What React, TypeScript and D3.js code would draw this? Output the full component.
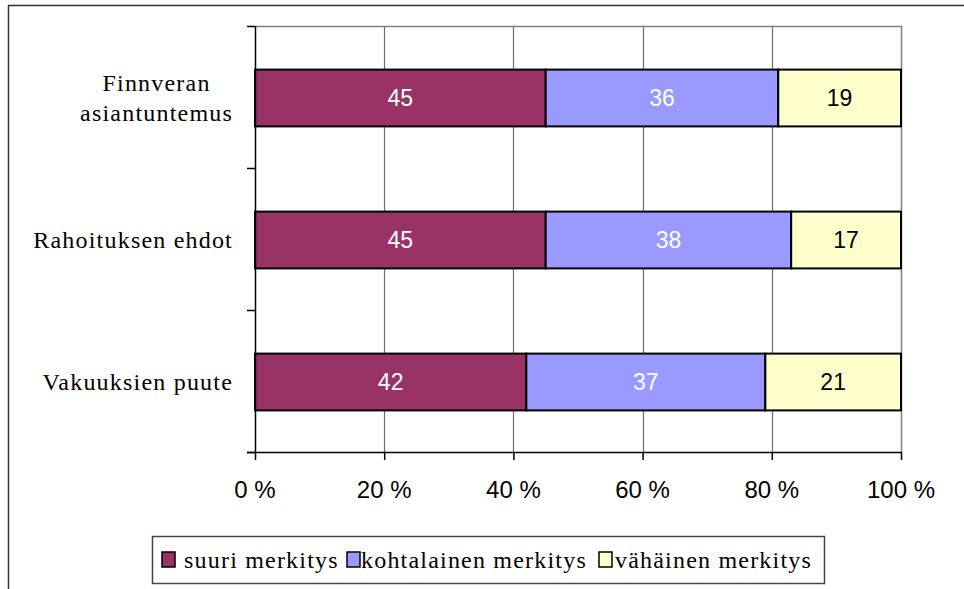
import React, { useEffect, useRef } from 'react';
import * as d3 from 'd3';

const categories = [['Finnveran', 'asiantuntemus'], ['Rahoituksen ehdot'], ['Vakuuksien puute']];
const seriesNames = ['suuri merkitys', 'kohtalainen merkitys', 'vähäinen merkitys'];
const suuri = [45, 45, 42];
const kohtalainen = [36, 38, 37];
const vahainen = [19, 17, 21];
const xTicks = [0, 20, 40, 60, 80, 100];

const colors = ['#993366', '#9999ff', '#ffffcc'];
const labelColors = ['#ffffff', '#ffffff', '#000000'];

const W = 964;
const H = 589;

const App: React.FC = () => {
  const svgRef = useRef<SVGSVGElement>(null);

  useEffect(() => {
    if (!svgRef.current) return;
    const svg = d3.select(svgRef.current);
    svg.selectAll('*').remove();

    const margin = { top: 26, left: 255, right: W - 901, bottom: H - 452 };
    const keys = categories.map(c => c.join(' '));
    const rows = keys.map((k, i) => ({ key: k, values: [suuri[i], kohtalainen[i], vahainen[i]] }));

    const x = d3.scaleLinear().domain([0, 100]).range([margin.left, W - margin.right]);
    const y = d3.scaleBand().domain(keys).range([margin.top, H - margin.bottom]).paddingInner(0.6).paddingOuter(0.3);
    const band = d3.scaleBand().domain(keys).range([margin.top, H - margin.bottom]);

    // outer chart frame
    svg.append('rect').attr('x', 8.5).attr('y', 5.5).attr('width', W).attr('height', H)
      .attr('fill', 'none').attr('stroke', '#333').attr('stroke-width', 1.5);

    // plot area border (top/right)
    svg.append('path')
      .attr('d', `M${x(0)},${margin.top + 0.5}H${x(100) + 0.5}V${H - margin.bottom}`)
      .attr('fill', 'none').attr('stroke', '#808080').attr('stroke-width', 1.5);

    // gridlines
    svg.append('g').selectAll('line').data(xTicks.slice(1, -1)).join('line')
      .attr('x1', d => Math.round(x(d)) + 0.5).attr('x2', d => Math.round(x(d)) + 0.5)
      .attr('y1', margin.top).attr('y2', H - margin.bottom)
      .attr('stroke', '#6e6e6e').attr('stroke-width', 1.2);

    // stacked bars
    const stack = d3.stack<any>().keys(['0', '1', '2']).value((d, k) => d.values[+k]);
    const stacked = stack(rows);
    stacked.forEach((layer, si) => {
      const g = svg.append('g');
      g.selectAll('rect').data(layer).join('rect')
        .attr('x', d => x(d[0]))
        .attr('y', d => (y((d as any).data.key) as number) + 1)
        .attr('width', d => x(d[1]) - x(d[0]))
        .attr('height', y.bandwidth())
        .attr('fill', colors[si])
        .attr('stroke', '#000').attr('stroke-width', 2);
      g.selectAll('text').data(layer).join('text')
        .attr('x', d => (x(d[0]) + x(d[1])) / 2)
        .attr('y', d => (y((d as any).data.key) as number) + 1 + y.bandwidth() / 2)
        .attr('dy', '0.36em')
        .attr('text-anchor', 'middle')
        .attr('font-family', 'Liberation Sans, Arial, sans-serif')
        .attr('font-size', 23)
        .attr('fill', labelColors[si])
        .text(d => String(d[1] - d[0]));
    });

    // y axis
    const yAxis = svg.append('g');
    yAxis.append('line').attr('x1', x(0) + 0.5).attr('x2', x(0) + 0.5)
      .attr('y1', margin.top).attr('y2', H - margin.bottom).attr('stroke', '#000').attr('stroke-width', 1.5);
    const yTickPos = keys.map(k => band(k) as number).concat([H - margin.bottom]);
    yAxis.selectAll('line.t').data(yTickPos).join('line').attr('class', 't')
      .attr('x1', x(0) - 8).attr('x2', x(0)).attr('y1', d => d + 0.5).attr('y2', d => d + 0.5)
      .attr('stroke', '#000').attr('stroke-width', 1.5);

    // category labels
    const labelRight = 233;
    categories.forEach((lines, i) => {
      const cy = (y(keys[i]) as number) + 1 + y.bandwidth() / 2;
      const t = svg.append('text')
        .attr('font-family', 'Liberation Serif, Times New Roman, serif')
        .attr('font-size', 24).attr('letter-spacing', 1.2).attr('fill', '#000')
        .attr('text-anchor', 'middle');
      const lh = 30;
      lines.forEach((ln, j) => {
        t.append('tspan').attr('x', 0).attr('y', cy + (j - (lines.length - 1) / 2) * lh).attr('dy', '0.35em').text(ln);
      });
      const bb = (t.node() as SVGTextElement).getBBox();
      t.attr('transform', `translate(${labelRight - bb.width / 2},0)`);
    });

    // x axis
    const xAxis = svg.append('g').attr('transform', `translate(0,${H - margin.bottom})`);
    xAxis.append('line').attr('x1', x(0) - 8).attr('x2', x(100)).attr('y1', 0.5).attr('y2', 0.5)
      .attr('stroke', '#000').attr('stroke-width', 1.5);
    xAxis.selectAll('line.t').data(xTicks).join('line').attr('class', 't')
      .attr('x1', d => x(d) + 0.5).attr('x2', d => x(d) + 0.5).attr('y1', 0).attr('y2', 8)
      .attr('stroke', '#000').attr('stroke-width', 1.5);
    xAxis.selectAll('text').data(xTicks).join('text')
      .attr('x', d => x(d)).attr('y', 46)
      .attr('text-anchor', 'middle')
      .attr('font-family', 'Liberation Sans, Arial, sans-serif')
      .attr('font-size', 24).attr('fill', '#000')
      .text(d => `${d} %`);

    // legend
    const lg = svg.append('g');
    lg.append('rect').attr('x', 152.5).attr('y', 536.5).attr('width', 672).attr('height', 47)
      .attr('fill', '#fff').attr('stroke', '#444').attr('stroke-width', 1.5);
    const swatchX = [162, 347, 599];
    const textX = [184, 361, 615];
    seriesNames.forEach((name, i) => {
      lg.append('rect').attr('x', swatchX[i]).attr('y', 552).attr('width', 13).attr('height', 15)
        .attr('fill', colors[i]).attr('stroke', '#000').attr('stroke-width', 1.5);
      lg.append('text').attr('x', textX[i]).attr('y', 560).attr('dy', '0.35em')
        .attr('font-family', 'Liberation Serif, Times New Roman, serif')
        .attr('font-size', 24).attr('letter-spacing', 1.2).attr('fill', '#000')
        .text(name);
    });
  }, []);

  return (
    <svg ref={svgRef} width={W} height={H}
      style={{ position: 'absolute', left: 0, top: 0, background: '#fff' }} />
  );
};

export default App;
